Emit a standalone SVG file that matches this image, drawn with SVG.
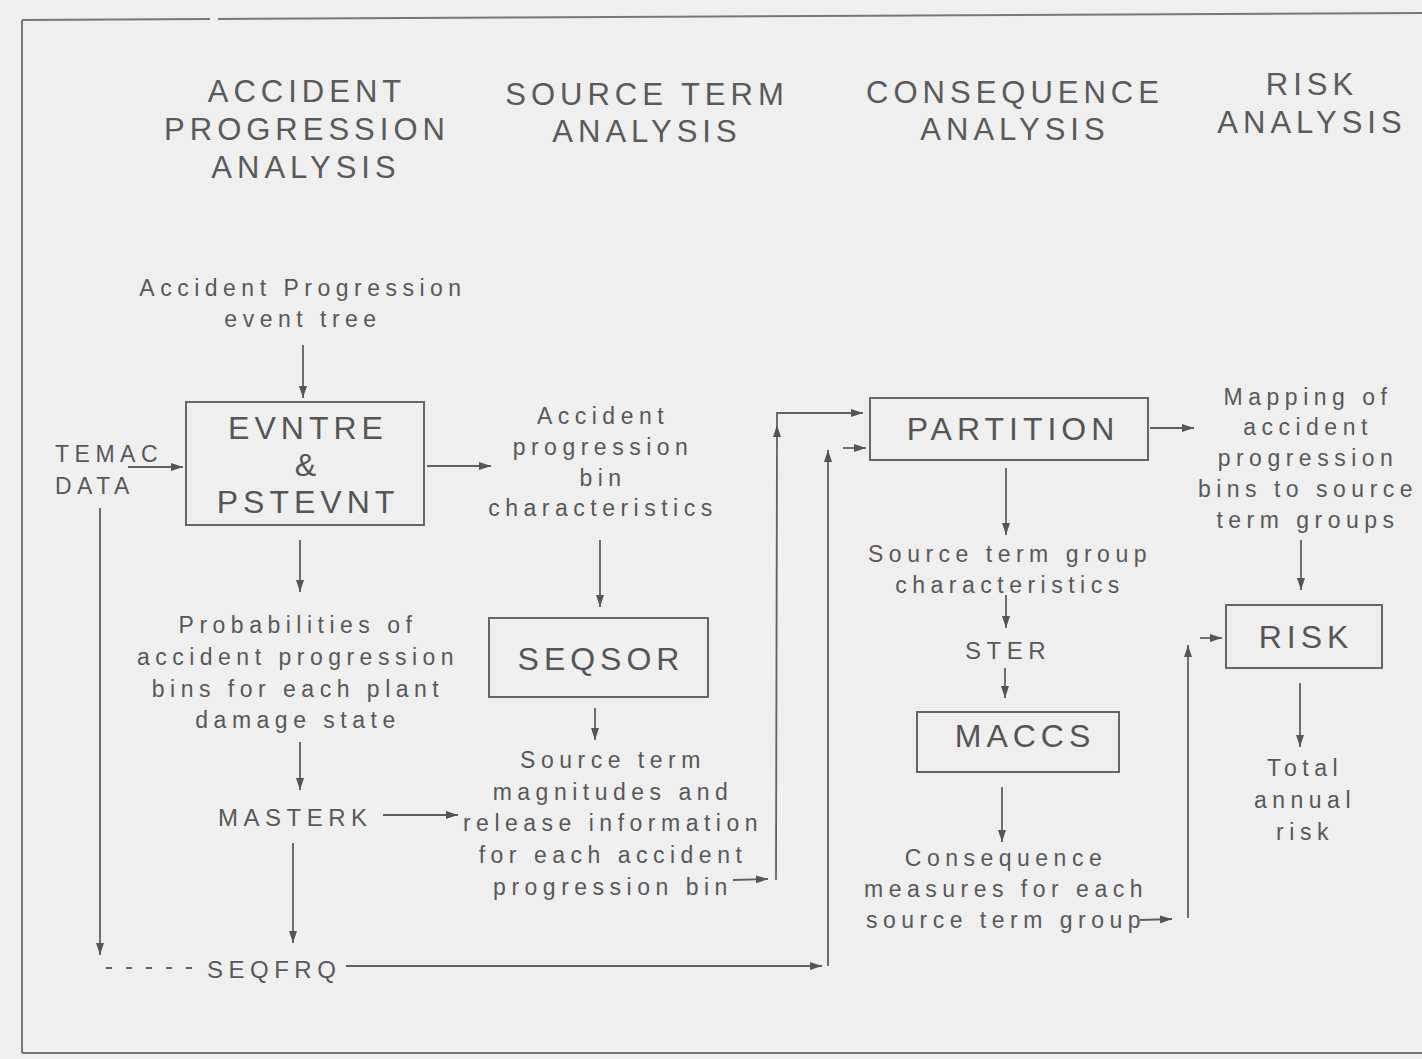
<svg xmlns="http://www.w3.org/2000/svg" width="1422" height="1059" viewBox="0 0 1422 1059">
<defs>
<marker id="ah" viewBox="0 0 12 8" refX="12" refY="4" markerWidth="12" markerHeight="8" markerUnits="userSpaceOnUse" orient="auto">
<path d="M0,0 L12,4 L0,8 z" fill="#555"/>
</marker>
<style>
.hd{font-family:"Liberation Sans",Arial,sans-serif;font-size:31px;letter-spacing:5px;fill:#5a5a5a;text-anchor:middle}
.bx{font-family:"Liberation Sans",Arial,sans-serif;font-size:32px;letter-spacing:5px;fill:#555;text-anchor:middle}
.tx{font-family:"Liberation Sans",Arial,sans-serif;font-size:23px;letter-spacing:5.5px;fill:#585858;text-anchor:middle}
.lb{font-family:"Liberation Sans",Arial,sans-serif;font-size:24px;letter-spacing:5.5px;fill:#585858}
.box{fill:none;stroke:#666;stroke-width:2}
.ln{fill:none;stroke:#606060;stroke-width:1.8;marker-end:url(#ah)}
.pl{fill:none;stroke:#666;stroke-width:1.8}
</style>
</defs>
<rect x="0" y="0" width="1422" height="1059" fill="#efefef"/>
<g id="frame" fill="none" stroke="#777" stroke-width="2">
<line x1="22" y1="20" x2="210" y2="19"/>
<line x1="218" y1="19" x2="1422" y2="13"/>
<line x1="22" y1="20" x2="22" y2="1053"/>
<line x1="22" y1="1053" x2="1422" y2="1053"/>
</g>
<g id="headers">
<text class="hd" x="307" y="102">ACCIDENT</text>
<text class="hd" x="307" y="140">PROGRESSION</text>
<text class="hd" x="306" y="178">ANALYSIS</text>
<text class="hd" x="647" y="105">SOURCE TERM</text>
<text class="hd" x="647" y="142">ANALYSIS</text>
<text class="hd" x="1015" y="103">CONSEQUENCE</text>
<text class="hd" x="1015" y="140">ANALYSIS</text>
<text class="hd" x="1312" y="95">RISK</text>
<text class="hd" x="1312" y="133">ANALYSIS</text>
</g>
<g id="apet">
<text class="tx" x="303" y="296">Accident Progression</text>
<text class="tx" x="303" y="327">event tree</text>
</g>
<g id="evntre">
<rect class="box" x="186" y="402" width="238" height="123"/>
<text class="bx" x="308" y="439">EVNTRE</text>
<text class="bx" x="308" y="476">&amp;</text>
<text class="bx" x="308" y="513">PSTEVNT</text>
</g>
<g id="temac">
<text class="lb" x="55" y="462" style="font-size:23px">TEMAC</text>
<text class="lb" x="55" y="494" style="font-size:23px">DATA</text>
</g>
<g id="apbc">
<text class="tx" x="603" y="424">Accident</text>
<text class="tx" x="603" y="455">progression</text>
<text class="tx" x="603" y="486">bin</text>
<text class="tx" x="603" y="516">characteristics</text>
</g>
<g id="prob">
<text class="tx" x="298" y="633">Probabilities of</text>
<text class="tx" x="298" y="665">accident progression</text>
<text class="tx" x="298" y="697">bins for each plant</text>
<text class="tx" x="298" y="728">damage state</text>
</g>
<g id="masterk">
<text class="lb" x="218" y="826">MASTERK</text>
</g>
<g id="seqfrq">
<text class="lb" x="207" y="978">SEQFRQ</text>
</g>
<g id="seqsor">
<rect class="box" x="489" y="618" width="219" height="79"/>
<text class="bx" x="601" y="670">SEQSOR</text>
</g>
<g id="stm">
<text class="tx" x="613" y="768">Source term</text>
<text class="tx" x="613" y="800">magnitudes and</text>
<text class="tx" x="613" y="831">release information</text>
<text class="tx" x="613" y="863">for each accident</text>
<text class="tx" x="613" y="895">progression bin</text>
</g>
<g id="partition">
<rect class="box" x="870" y="398" width="278" height="62"/>
<text class="bx" x="1013" y="440">PARTITION</text>
</g>
<g id="stgc">
<text class="tx" x="1010" y="562">Source term group</text>
<text class="tx" x="1010" y="593">characteristics</text>
</g>
<g id="ster">
<text class="lb" x="965" y="659">STER</text>
</g>
<g id="maccs">
<rect class="box" x="917" y="712" width="202" height="60"/>
<text class="bx" x="1025" y="747">MACCS</text>
</g>
<g id="cons">
<text class="tx" x="1006" y="866">Consequence</text>
<text class="tx" x="1006" y="897">measures for each</text>
<text class="tx" x="1006" y="928">source term group</text>
</g>
<g id="mapping">
<text class="tx" x="1308" y="405">Mapping of</text>
<text class="tx" x="1308" y="435">accident</text>
<text class="tx" x="1308" y="466">progression</text>
<text class="tx" x="1308" y="497">bins to source</text>
<text class="tx" x="1308" y="528">term groups</text>
</g>
<g id="risk">
<rect class="box" x="1226" y="605" width="156" height="63"/>
<text class="bx" x="1306" y="648">RISK</text>
</g>
<g id="total">
<text class="tx" x="1305" y="776">Total</text>
<text class="tx" x="1305" y="808">annual</text>
<text class="tx" x="1305" y="840">risk</text>
</g>
<g id="connectors">
<line class="ln" x1="303" y1="345" x2="303" y2="398"/>
<line class="ln" x1="128" y1="467" x2="183" y2="467"/>
<line class="ln" x1="100" y1="508" x2="100" y2="955"/>
<line class="pl" x1="106" y1="968" x2="204" y2="968" stroke-dasharray="6 14"/>
<line class="ln" x1="346" y1="966" x2="822" y2="966"/>
<line class="ln" x1="828" y1="966" x2="828" y2="450"/>
<line class="ln" x1="843" y1="448" x2="866" y2="448"/>
<line class="ln" x1="427" y1="466" x2="491" y2="466"/>
<line class="ln" x1="300" y1="540" x2="300" y2="592"/>
<line class="ln" x1="300" y1="742" x2="300" y2="790"/>
<line class="ln" x1="383" y1="815" x2="458" y2="815"/>
<line class="ln" x1="293" y1="843" x2="293" y2="943"/>
<line class="ln" x1="600" y1="540" x2="600" y2="607"/>
<line class="ln" x1="595" y1="708" x2="595" y2="740"/>
<line class="ln" x1="733" y1="880" x2="768" y2="879"/>
<line class="ln" x1="776" y1="880" x2="777" y2="425"/>
<polyline class="ln" points="777,425 777,413 863,413"/>
<line class="ln" x1="1150" y1="428" x2="1194" y2="428"/>
<line class="ln" x1="1006" y1="468" x2="1006" y2="535"/>
<line class="ln" x1="1006" y1="595" x2="1006" y2="628"/>
<line class="ln" x1="1005" y1="668" x2="1005" y2="698"/>
<line class="ln" x1="1002" y1="787" x2="1002" y2="842"/>
<line class="ln" x1="1140" y1="920" x2="1172" y2="919"/>
<line class="ln" x1="1188" y1="918" x2="1188" y2="645"/>
<line class="ln" x1="1200" y1="638" x2="1222" y2="638"/>
<line class="ln" x1="1301" y1="540" x2="1301" y2="590"/>
<line class="ln" x1="1300" y1="683" x2="1300" y2="747"/>
</g>
</svg>
